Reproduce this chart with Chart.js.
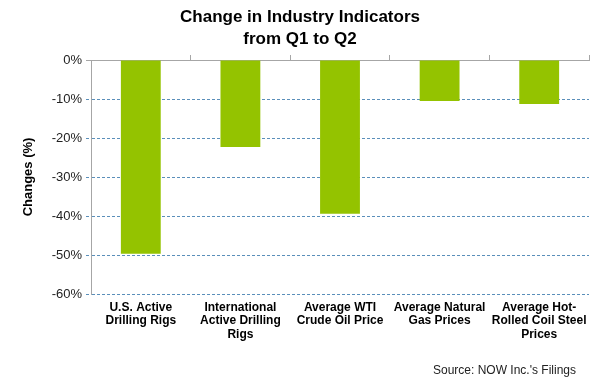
<!DOCTYPE html>
<html>
<head>
<meta charset="utf-8">
<script src="https://cdn.jsdelivr.net/npm/chart.js@4.4.1/dist/chart.umd.min.js"></script>
<style>
  html, body { margin: 0; padding: 0; background: #fff; }
  #wrap { width: 601px; height: 386px; }
</style>
</head>
<body>
<div id="wrap"><canvas id="grafico" width="601" height="386"></canvas></div>
<script>
// dados
const categorias = [
  ['U.S. Active', 'Drilling Rigs'],
  ['International', 'Active Drilling', 'Rigs'],
  ['Average WTI', 'Crude Oil Price'],
  ['Average Natural', 'Gas Prices'],
  ['Average Hot-', 'Rolled Coil Steel', 'Prices']
];
const variacao = [-49.7, -22.3, -39.4, -10.5, -11.3];
const ticksY = [0, -10, -20, -30, -40, -50, -60];
const titulo = ['Change in Industry Indicators', 'from Q1 to Q2'];
const fonte = "Source: NOW Inc.'s Filings";

const FAMILIA = "'Liberation Sans', Arial, sans-serif";
const CINZA = '#A6A6A6';
const AZUL = '#5A8FBA';

// texto da fonte no canto inferior direito
const pluginFonte = {
  id: 'fonte',
  afterDraw(chart) {
    const ctx = chart.ctx;
    ctx.save();
    ctx.font = '12px ' + FAMILIA;
    ctx.fillStyle = '#222';
    ctx.textAlign = 'right';
    ctx.textBaseline = 'middle';
    ctx.fillText(fonte, 576, 371);
    ctx.restore();
  }
};

const ehZero = c => c.tick && c.tick.value === 0;

const ctx = document.getElementById('grafico').getContext('2d');
const myChart = new Chart(ctx, {
  type: 'bar',
  data: {
    labels: categorias,
    datasets: [{
      data: variacao,
      backgroundColor: '#94C300',
      borderWidth: 0,
      barPercentage: 0.4,
      categoryPercentage: 1
    }]
  },
  options: {
    responsive: false,
    animation: false,
    layout: { padding: { left: 11, right: 12, top: 0, bottom: 0 } },
    plugins: {
      legend: { display: false },
      tooltip: { enabled: false },
      title: {
        display: true,
        text: titulo,
        color: '#000',
        font: { family: FAMILIA, size: 17, weight: 'bold', lineHeight: 1.25 },
        padding: { top: 7, bottom: 0 }
      }
    },
    scales: {
      x: {
        position: 'bottom',
        offset: true,
        grid: { display: false, drawTicks: false },
        border: { display: false },
        ticks: {
          color: '#000',
          font: { family: FAMILIA, size: 12, weight: 'bold', lineHeight: 1.12 },
          padding: 7,
          maxRotation: 0,
          autoSkip: false
        },
        afterFit(scale) { scale.height = 92; }
      },
      x2: {
        type: 'category',
        position: 'top',
        offset: true,
        labels: categorias,
        grid: {
          offset: true,
          drawOnChartArea: false,
          tickLength: 5,
          color: CINZA,
          tickColor: c => c.index === 0 ? 'rgba(0,0,0,0)' : CINZA
        },
        border: { color: CINZA },
        ticks: { display: false },
        afterFit(scale) { scale.height = 10.5; }
      },
      y: {
        min: -60,
        max: 0,
        afterBuildTicks(scale) {
          scale.ticks = ticksY.map(v => ({ value: v }));
        },
        grid: {
          color: c => ehZero(c) ? 'rgba(0,0,0,0)' : AZUL,
          tickColor: c => ehZero(c) ? CINZA : AZUL,
          tickBorderDash: c => ehZero(c) ? [] : [3, 2],
          tickLength: 5,
          lineWidth: 1
        },
        border: {
          color: CINZA,
          dash: c => ehZero(c) ? [] : [3, 2]
        },
        ticks: {
          color: '#222',
          font: { family: FAMILIA, size: 13 },
          padding: 4,
          callback: v => v + '%'
        },
        title: {
          display: true,
          text: 'Changes (%)',
          color: '#000',
          font: { family: FAMILIA, size: 13, weight: 'bold' },
          padding: { top: 10, bottom: 0 }
        },
        afterFit(scale) { scale.width = 80; }
      }
    }
  },
  plugins: [pluginFonte]
});
</script>
</body>
</html>
